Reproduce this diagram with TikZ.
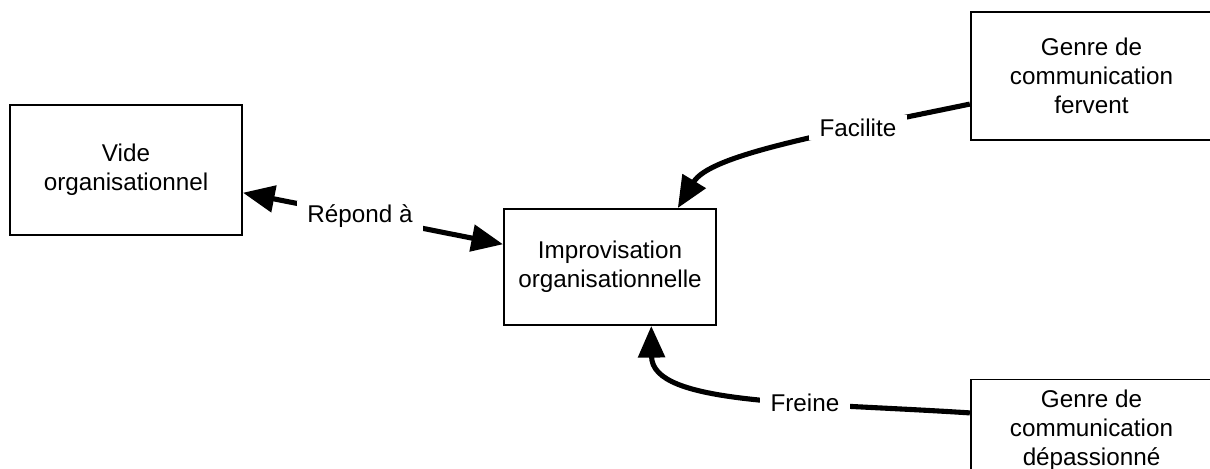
\documentclass[tikz,border=0pt]{standalone}
\usepackage{fontspec}
\setmainfont{Liberation Sans}
\usetikzlibrary{arrows.meta}

\begin{document}
\begin{tikzpicture}[x=0.02cm,y=-0.02cm,
		box/.style={draw,line width=1.1pt,align=center,inner sep=0pt,font=\fontsize{13.8}{16.5}\selectfont},
		link/.style={line width=2.9pt,>={Triangle[length=18pt,width=15pt]}},
		lbl/.style={fill=white,inner xsep=6pt,inner ysep=2pt,font=\fontsize{13.8}{16.5}\selectfont}]
			\useasboundingbox (0,0) rectangle (1210,469);
			\node (V) at (126,170) [box,minimum width=4.64cm,minimum height=2.6cm] {Vide\\organisationnel};
			\node (I) at (610,267) [box,minimum width=4.24cm,minimum height=2.32cm] {Improvisation\\organisationnelle};
			\node (F) at (1091.5,76) [box,minimum width=4.83cm,minimum height=2.56cm] {Genre de\\communication\\fervent};
			\node (P) at (1091.5,430) [box,minimum width=4.83cm,minimum height=2.02cm] {Genre de\\communication\\dépassionné};
			
			\draw[link,<->] (V.-11) -- node[lbl,pos=0.45] {Répond à} (I.168);
			\draw[link,->] (F.193.5) .. controls (820,135) and (710,155) .. node[lbl,pos=0.27] {Facilite} (I.41);
			\draw[link,->] (P.172.4) .. controls (800,402) and (652,405) .. node[lbl,pos=0.35] {Freine} (I.305);
		\end{tikzpicture}
\end{document}
